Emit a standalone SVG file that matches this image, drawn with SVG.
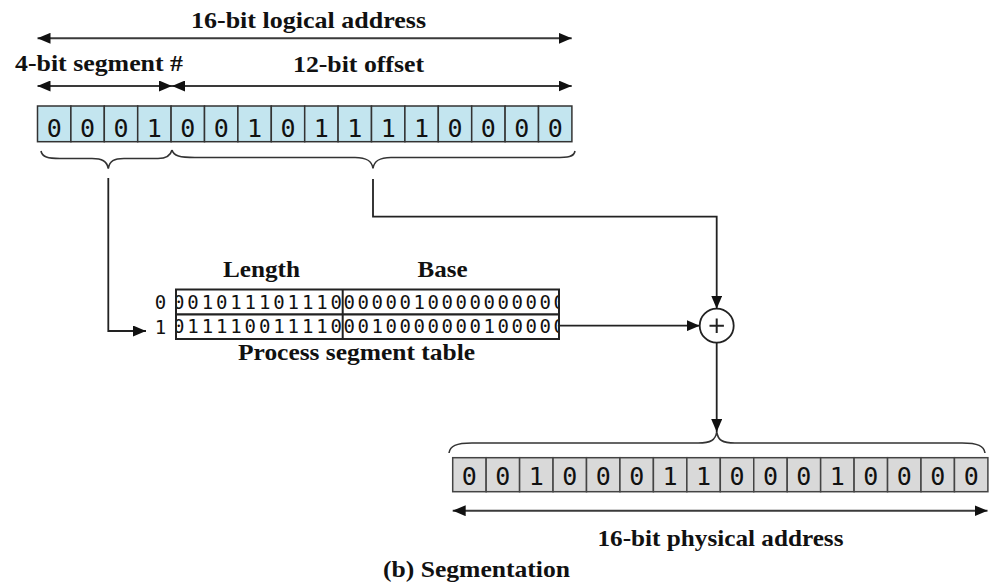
<svg xmlns="http://www.w3.org/2000/svg" width="994" height="586" viewBox="0 0 994 586">
<style>
.lbl{font-family:"Liberation Serif","Times New Roman","DejaVu Serif",serif;font-weight:bold;font-size:24px;fill:#111;text-anchor:middle}
.bit{font-family:"DejaVu Sans Mono",monospace;font-size:25px;fill:#111;text-anchor:middle}
.tbl{font-family:"DejaVu Sans Mono",monospace;font-size:19px;fill:#111}
.rowl{font-family:"DejaVu Sans Mono",monospace;font-size:19px;fill:#111;text-anchor:middle}
.cellB{fill:#c3e5ef;stroke:#333;stroke-width:1.5}
.cellG{fill:#d9d9d9;stroke:#444;stroke-width:1.5}
.ln{fill:none;stroke:#222;stroke-width:1.8}
.dim{fill:none;stroke:#3a3a3a;stroke-width:2}
.brace{fill:none;stroke:#333;stroke-width:1.6}
.tb{fill:#fff;stroke:#222;stroke-width:2}
</style>
<defs>
<marker id="ah" markerUnits="userSpaceOnUse" markerWidth="13" markerHeight="11" refX="13" refY="5.5" orient="auto-start-reverse"><path d="M0,0 L13,5.5 L0,11 z" fill="#111"/></marker>
<clipPath id="cL"><rect x="177" y="289" width="165" height="50"/></clipPath>
<clipPath id="cB"><rect x="344" y="289" width="214" height="50"/></clipPath>
</defs>

<g id="dimensions">
<path class="dim" d="M37.5 38.3 H571.7" marker-start="url(#ah)" marker-end="url(#ah)"/>
<text class="lbl" font-family="Liberation Serif, serif" x="308.5" y="28" textLength="235" lengthAdjust="spacingAndGlyphs">16-bit logical address</text>
<path class="dim" d="M37.5 86 H172" marker-start="url(#ah)" marker-end="url(#ah)"/>
<path class="dim" d="M172 86 H571.7" marker-start="url(#ah)" marker-end="url(#ah)"/>
<text class="lbl" x="99" y="71" textLength="168" lengthAdjust="spacingAndGlyphs">4-bit segment #</text>
<text class="lbl" x="358.5" y="72" textLength="131" lengthAdjust="spacingAndGlyphs">12-bit offset</text>
<path class="dim" d="M452.7 510.7 H987.5" marker-start="url(#ah)" marker-end="url(#ah)"/>
<text class="lbl" x="720.5" y="546" textLength="246" lengthAdjust="spacingAndGlyphs">16-bit physical address</text>
</g>

<g id="logical-address">
<rect class="cellB" x="37.5" y="106" width="33.4" height="35.7"/>
<rect class="cellB" x="70.9" y="106" width="33.4" height="35.7"/>
<rect class="cellB" x="104.3" y="106" width="33.4" height="35.7"/>
<rect class="cellB" x="137.7" y="106" width="33.4" height="35.7"/>
<rect class="cellB" x="171.1" y="106" width="33.4" height="35.7"/>
<rect class="cellB" x="204.5" y="106" width="33.4" height="35.7"/>
<rect class="cellB" x="237.9" y="106" width="33.4" height="35.7"/>
<rect class="cellB" x="271.3" y="106" width="33.4" height="35.7"/>
<rect class="cellB" x="304.7" y="106" width="33.4" height="35.7"/>
<rect class="cellB" x="338.1" y="106" width="33.4" height="35.7"/>
<rect class="cellB" x="371.5" y="106" width="33.4" height="35.7"/>
<rect class="cellB" x="404.9" y="106" width="33.4" height="35.7"/>
<rect class="cellB" x="438.3" y="106" width="33.4" height="35.7"/>
<rect class="cellB" x="471.7" y="106" width="33.4" height="35.7"/>
<rect class="cellB" x="505.1" y="106" width="33.4" height="35.7"/>
<rect class="cellB" x="538.5" y="106" width="33.4" height="35.7"/>
<text class="bit" y="136.5" x="54.2 87.6 121 154.4 187.8 221.2 254.6 288 321.4 354.8 388.2 421.6 455 488.4 521.8 555.2">0001001011110000</text>
<path class="brace" d="M41 151 C42 157 48 158.5 60 158.5 L92 158.5 C102 158.5 107 161 108.3 168.5 C109.6 161 114 158.5 124 158.5 L158 158.5 C166 158.5 170.5 156 172 150"/>
<path class="brace" d="M172 150 C173.5 156 180 157.5 195 157.5 L355 157.5 C367 157.5 372 161 373 168.5 C374 161 379 157.5 391 157.5 L555 157.5 C568 157.5 574 157 575 151"/>
</g>

<g id="segment-table">
<text class="lbl" x="261.5" y="277" textLength="77" lengthAdjust="spacingAndGlyphs">Length</text>
<text class="lbl" x="442.5" y="277" textLength="50" lengthAdjust="spacingAndGlyphs">Base</text>
<rect class="tb" x="176" y="289.5" width="383" height="25"/>
<rect class="tb" x="176" y="314.5" width="383" height="24.5"/>
<path class="tb" d="M342.7 289.5 V339"/>
<text class="rowl" x="160.5" y="309">0</text>
<text class="rowl" x="160.5" y="333.5">1</text>
<g clip-path="url(#cL)">
<text class="tbl" x="173" y="309" textLength="169" lengthAdjust="spacing">001011101110</text>
<text class="tbl" x="173" y="333" textLength="169" lengthAdjust="spacing">011110011110</text>
</g>
<g clip-path="url(#cB)">
<text class="tbl" x="343.5" y="309" textLength="221.5" lengthAdjust="spacing">0000010000000000</text>
<text class="tbl" x="343.5" y="333" textLength="221.5" lengthAdjust="spacing">0010000000100000</text>
</g>
<text class="lbl" x="356.5" y="360" textLength="237" lengthAdjust="spacingAndGlyphs">Process segment table</text>
</g>

<g id="adder">
<circle cx="716.7" cy="325.7" r="17" fill="#fff" stroke="#222" stroke-width="1.8"/>
<path d="M709.5 325.7 H723.9 M716.7 318.5 V332.9" stroke="#222" stroke-width="2"/>
</g>

<g id="physical-address">
<path class="brace" d="M449 453 C450 446 456 443 472 443 L698 443 C711 443 715.5 440 716.7 432 C718 440 722 443 735 443 L962 443 C978 443 984 446 985 453"/>
<rect class="cellG" x="452.7" y="457.7" width="33.45" height="34"/>
<rect class="cellG" x="486.15" y="457.7" width="33.45" height="34"/>
<rect class="cellG" x="519.6" y="457.7" width="33.45" height="34"/>
<rect class="cellG" x="553.05" y="457.7" width="33.45" height="34"/>
<rect class="cellG" x="586.5" y="457.7" width="33.45" height="34"/>
<rect class="cellG" x="619.95" y="457.7" width="33.45" height="34"/>
<rect class="cellG" x="653.4" y="457.7" width="33.45" height="34"/>
<rect class="cellG" x="686.85" y="457.7" width="33.45" height="34"/>
<rect class="cellG" x="720.3" y="457.7" width="33.45" height="34"/>
<rect class="cellG" x="753.75" y="457.7" width="33.45" height="34"/>
<rect class="cellG" x="787.2" y="457.7" width="33.45" height="34"/>
<rect class="cellG" x="820.65" y="457.7" width="33.45" height="34"/>
<rect class="cellG" x="854.1" y="457.7" width="33.45" height="34"/>
<rect class="cellG" x="887.55" y="457.7" width="33.45" height="34"/>
<rect class="cellG" x="921" y="457.7" width="33.45" height="34"/>
<rect class="cellG" x="954.45" y="457.7" width="33.45" height="34"/>
<text class="bit" y="485" x="469.4 502.9 536.3 569.8 603.2 636.7 670.1 703.6 737 770.5 803.9 837.4 870.8 904.3 937.7 971.2">0010001100010000</text>
</g>

<g id="connectors">
<path class="ln" d="M108.3 178 V331 H146" marker-end="url(#ah)"/>
<path class="ln" d="M373 179 V216.7 H716.7 V308.7" marker-end="url(#ah)"/>
<path class="ln" d="M559 325.7 H699.7" marker-end="url(#ah)"/>
<path class="ln" d="M716.7 342.7 V432" marker-end="url(#ah)"/>
</g>

<g id="caption">
<text class="lbl" x="476.5" y="577" textLength="187" lengthAdjust="spacingAndGlyphs">(b) Segmentation</text>
</g>
</svg>
